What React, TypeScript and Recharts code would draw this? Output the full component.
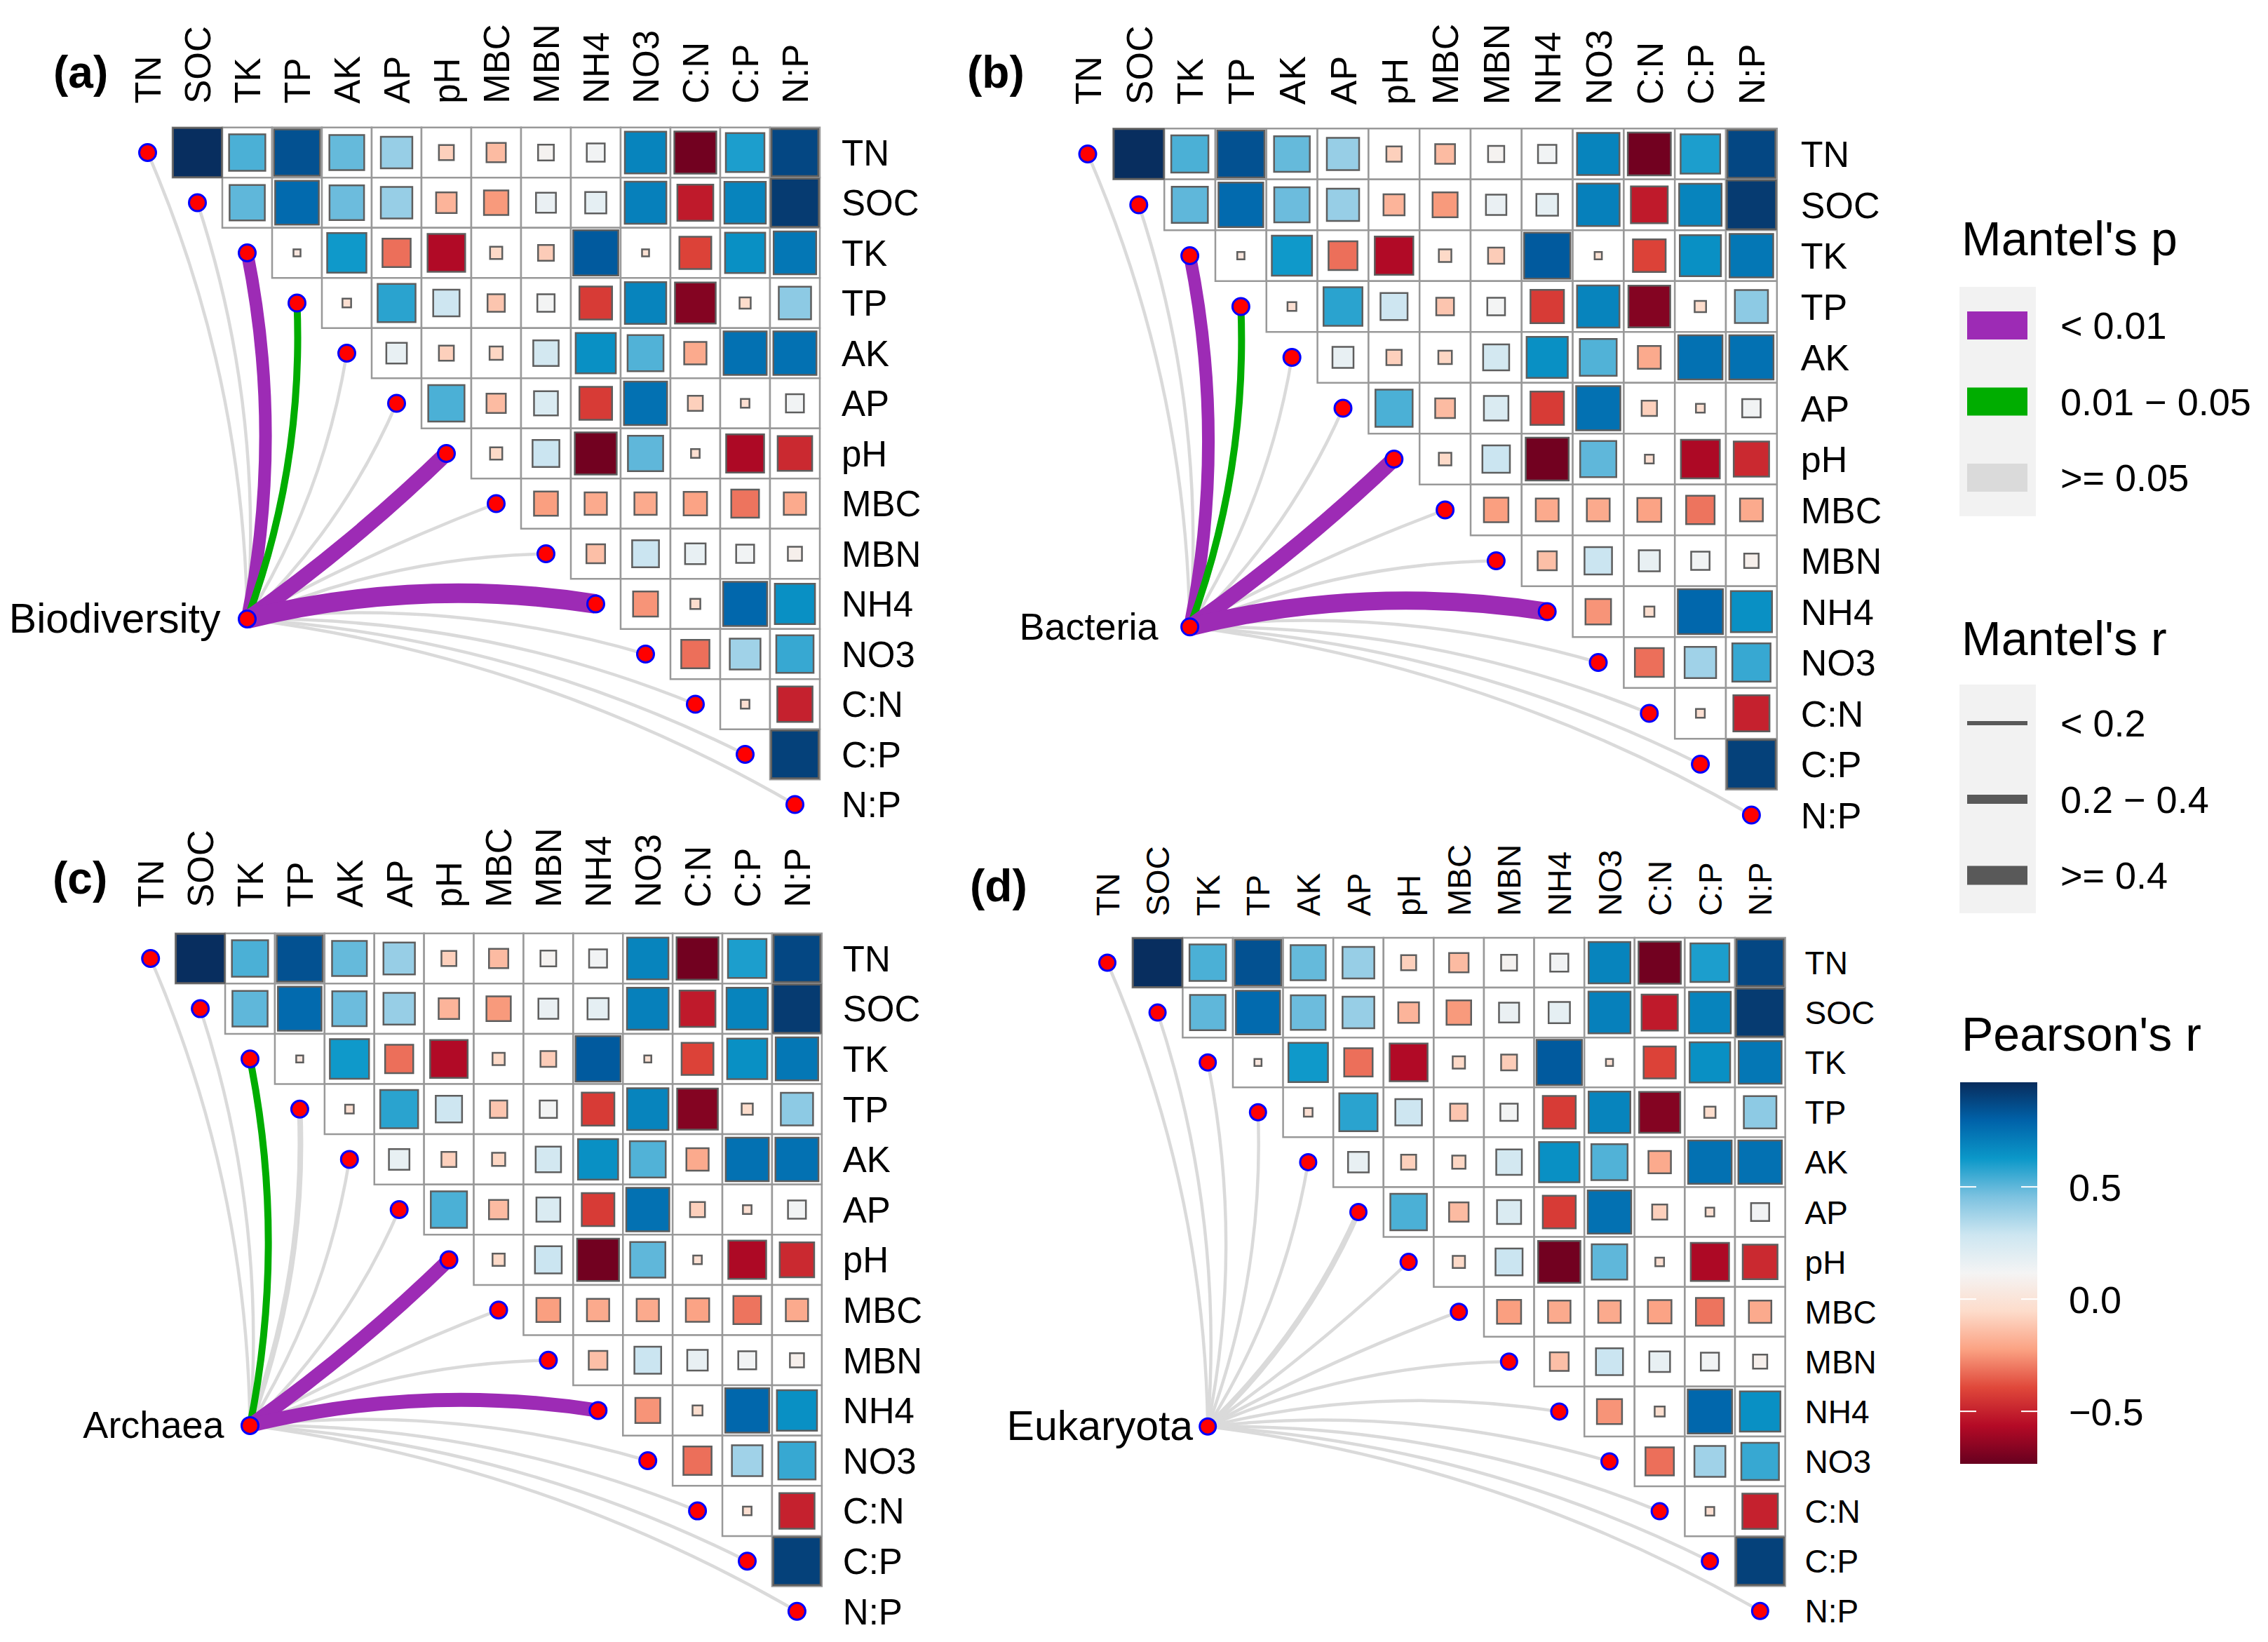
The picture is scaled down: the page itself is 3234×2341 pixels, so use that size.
import React from 'react';
import { ScatterChart, Scatter, XAxis, YAxis, ReferenceArea } from 'recharts';

const FONT = '"Liberation Sans", Arial, Helvetica, sans-serif';
const PAGE_W = 3234;
const PAGE_H = 2341;

const variables = ['TN', 'SOC', 'TK', 'TP', 'AK', 'AP', 'pH', 'MBC', 'MBN', 'NH4', 'NO3', 'C:N', 'C:P', 'N:P'];

// Pearson's r, upper triangle: row i holds the columns i+1 .. 13
const pearsonRows = [
  [0.96, 0.53, 0.85, 0.49, 0.4, -0.09, -0.15, 0.1, 0.13, 0.69, -0.71, 0.6, 0.88], // TN
  [0.5, 0.77, 0.48, 0.4, -0.17, -0.24, 0.16, 0.18, 0.7, -0.52, 0.69, 0.92], // SOC
  [0.02, 0.62, -0.32, -0.57, -0.06, -0.1, 0.82, -0.02, -0.41, 0.65, 0.73], // TK
  [-0.03, 0.58, 0.28, -0.12, 0.12, -0.43, 0.69, -0.67, -0.05, 0.42], // TP
  [0.17, -0.09, -0.07, 0.26, 0.65, 0.52, -0.2, 0.75, 0.75], // AK
  [0.53, -0.15, 0.23, -0.43, 0.75, -0.09, -0.03, 0.13], // AP
  [-0.06, 0.29, -0.71, 0.5, -0.03, -0.58, -0.48], // pH
  [-0.23, -0.2, -0.2, -0.22, -0.31, -0.2], // MBC
  [-0.14, 0.29, 0.17, 0.13, 0.08], // MBN
  [-0.25, -0.04, 0.78, 0.65], // NH4
  [-0.32, 0.38, 0.56], // NO3
  [-0.03, -0.5], // C:N
  [0.9], // C:P
];

// Mantel test per community, one entry per variable (p class, r estimate)
const biodiversityP = ['>=0.05', '>=0.05', '<0.01', '0.01-0.05', '>=0.05', '>=0.05', '<0.01', '>=0.05', '>=0.05', '<0.01', '>=0.05', '>=0.05', '>=0.05', '>=0.05'];
const biodiversityR = [0.1, 0.1, 0.45, 0.25, 0.1, 0.1, 0.55, 0.1, 0.15, 0.7, 0.1, 0.1, 0.1, 0.1];
const bacteriaP = ['>=0.05', '>=0.05', '<0.01', '0.01-0.05', '>=0.05', '>=0.05', '<0.01', '>=0.05', '>=0.05', '<0.01', '>=0.05', '>=0.05', '>=0.05', '>=0.05'];
const bacteriaR = [0.1, 0.1, 0.45, 0.25, 0.1, 0.1, 0.55, 0.1, 0.15, 0.65, 0.1, 0.1, 0.1, 0.1];
const archaeaP = ['>=0.05', '>=0.05', '0.01-0.05', '>=0.05', '>=0.05', '>=0.05', '<0.01', '>=0.05', '>=0.05', '<0.01', '>=0.05', '>=0.05', '>=0.05', '>=0.05'];
const archaeaR = [0.1, 0.1, 0.25, 0.2, 0.1, 0.1, 0.5, 0.1, 0.1, 0.5, 0.1, 0.1, 0.1, 0.1];
const eukaryotaP = ['>=0.05', '>=0.05', '>=0.05', '>=0.05', '>=0.05', '>=0.05', '>=0.05', '>=0.05', '>=0.05', '>=0.05', '>=0.05', '>=0.05', '>=0.05', '>=0.05'];
const eukaryotaR = [0.1, 0.1, 0.1, 0.1, 0.1, 0.2, 0.1, 0.1, 0.1, 0.1, 0.1, 0.1, 0.1, 0.1];

const pLabels = ['< 0.01', '0.01 \u2212 0.05', '>= 0.05'];
const rLabels = ['< 0.2', '0.2 \u2212 0.4', '>= 0.4'];
const colorTicks = [0.5, 0, -0.5];

const pColor: Record<string, string> = {
  '<0.01': '#9D2BB5',
  '0.01-0.05': '#00AD00',
  '>=0.05': '#DADADA',
};

const palette = ['#67001F', '#B40A26', '#E0483A', '#FBA283', '#FDDCCB', '#F4F4F4', '#CDE6F1', '#7CC2E0', '#0B98C9', '#0062A9', '#082C5C'];
const R_MIN = -0.734;
const R_MAX = 0.966;

const hex = (c: string) => [1, 3, 5].map((i) => parseInt(c.slice(i, i + 2), 16));

function pearsonColor(v: number) {
  let t = ((v - R_MIN) / (R_MAX - R_MIN)) * (palette.length - 1);
  t = Math.max(0, Math.min(palette.length - 1, t));
  const i = Math.min(palette.length - 2, Math.floor(t));
  const f = t - i;
  const a = hex(palette[i]);
  const b = hex(palette[i + 1]);
  const m = a.map((x, k) => Math.round(x + (b[k] - x) * f));
  return `rgb(${m[0]},${m[1]},${m[2]})`;
}

const linkWidth = (r: number) => (r < 0.2 ? 4.5 : 40 * r);

const cells: { i: number; j: number; r: number }[] = [];
pearsonRows.forEach((row, i) => row.forEach((r, k) => cells.push({ i, j: i + 1 + k, r })));
const diagonal = variables.map((_, i) => ({ x: i, y: i }));
const ticks = variables.map((_, i) => i);

// where the community node sits, in cell units
const NODE_X = 2;
const NODE_Y = 9.3;

const curveLine = (color: string, width: number) => (props: any) => {
  const pts = props.points;
  if (!pts || pts.length < 2) return <g />;
  const [a, b] = pts;
  const dx = b.x - a.x;
  const dy = b.y - a.y;
  const len = Math.hypot(dx, dy) || 1;
  const theta = (Math.atan2(-dy, dx) * 180) / Math.PI;
  const pivot = 32;
  const bulge = 0.05 * len * Math.min(1, Math.abs(theta - pivot) / 20);
  const nx = theta > pivot ? -dy / len : dy / len;
  const ny = theta > pivot ? dx / len : -dx / len;
  const qx = (a.x + b.x) / 2 + nx * bulge * 2;
  const qy = (a.y + b.y) / 2 + ny * bulge * 2;
  return <path d={`M${a.x},${a.y} Q${qx},${qy} ${b.x},${b.y}`} fill="none" stroke={color} strokeWidth={width} />;
};

const panels = [
  { tag: '(a)', name: 'Biodiversity', p: biodiversityP, r: biodiversityR, box: { left: 175, right: 1169, top: 181.75, bottom: 1182.75 }, font: 51, nameFont: 59, colGap: 34, rowGap: 31, nameGap: 38, dotR: 12, tagX: 76, tagY: 125 },
  { tag: '(b)', name: 'Bacteria', p: bacteriaP, r: bacteriaR, box: { left: 1514.6, right: 2533.8, top: 183.25, bottom: 1198.25 }, font: 52, nameFont: 54, colGap: 34, rowGap: 34, nameGap: 45, dotR: 12, tagX: 1379, tagY: 125 },
  { tag: '(c)', name: 'Archaea', p: archaeaP, r: archaeaR, box: { left: 179.25, right: 1171.85, top: 1330.7, bottom: 2333.1 }, font: 51, nameFont: 54, colGap: 37, rowGap: 30, nameGap: 37, dotR: 12, tagX: 75, tagY: 1274 },
  { tag: '(d)', name: 'Eukaryota', p: eukaryotaP, r: eukaryotaR, box: { left: 1543.2, right: 2545.6, top: 1336.95, bottom: 2332.35 }, font: 46, nameFont: 59, colGap: 31, rowGap: 28, nameGap: 21, dotR: 11.5, tagX: 1383, tagY: 1285 },
];

type PanelCfg = (typeof panels)[number];

const AXIS_PX = 1;

const Panel = ({ cfg }: { cfg: PanelCfg }) => {
  const { box } = cfg;
  const order = variables.map((_, i) => i).sort((a, b) => (cfg.p[a] === '>=0.05' ? 0 : 1) - (cfg.p[b] === '>=0.05' ? 0 : 1));

  const TopTick = (props: any) => {
    const { x, y, payload } = props;
    return (
      <text x={x} y={y} transform={`rotate(-90 ${x} ${y})`} dy="0.36em" textAnchor="start" fontSize={cfg.font} fontFamily={FONT} fill="#000">
        {variables[payload.value]}
      </text>
    );
  };
  const RightTick = (props: any) => {
    const { x, y, payload } = props;
    return (
      <text x={x} y={y} dy="0.36em" textAnchor="start" fontSize={cfg.font} fontFamily={FONT} fill="#000">
        {variables[payload.value]}
      </text>
    );
  };
  const dotShape = (props: any) => (
    <circle cx={props.cx} cy={props.cy} r={cfg.dotR} fill="#FF0000" stroke="#0000FF" strokeWidth={3} />
  );
  const nodeShape = (props: any) => (
    <g>
      <circle cx={props.cx} cy={props.cy} r={cfg.dotR} fill="#FF0000" stroke="#0000FF" strokeWidth={3} />
      <text x={props.cx - cfg.nameGap} y={props.cy} dy="0.33em" textAnchor="end" fontSize={cfg.nameFont} fontFamily={FONT} fill="#000">
        {cfg.name}
      </text>
    </g>
  );

  return (
    <div style={{ position: 'absolute', left: 0, top: 0 }}>
      <ScatterChart
        width={PAGE_W}
        height={PAGE_H}
        margin={{ left: box.left, top: box.top - AXIS_PX, right: PAGE_W - box.right - AXIS_PX, bottom: PAGE_H - box.bottom }}
      >
        <XAxis
          type="number"
          dataKey="x"
          orientation="top"
          domain={[-0.5, 13.5]}
          ticks={ticks}
          interval={0}
          height={AXIS_PX}
          tickSize={0}
          tickMargin={cfg.colGap}
          axisLine={false}
          tickLine={false}
          tick={TopTick}
        />
        <YAxis
          type="number"
          dataKey="y"
          orientation="right"
          reversed
          domain={[-0.5, 13.5]}
          ticks={ticks}
          interval={0}
          width={AXIS_PX}
          tickSize={0}
          tickMargin={cfg.rowGap}
          axisLine={false}
          tickLine={false}
          tick={RightTick}
        />
        {cells.map((c) => (
          <ReferenceArea
            key={`cell-${c.i}-${c.j}`}
            x1={c.j - 0.5}
            x2={c.j + 0.5}
            y1={c.i - 0.5}
            y2={c.i + 0.5}
            fill="#FFFFFF"
            fillOpacity={1}
            stroke="#999999"
            strokeWidth={2.5}
          />
        ))}
        {cells.map((c) => {
          const h = Math.sqrt(Math.abs(c.r)) / 2;
          return (
            <ReferenceArea
              key={`sq-${c.i}-${c.j}`}
              x1={c.j - h}
              x2={c.j + h}
              y1={c.i - h}
              y2={c.i + h}
              fill={pearsonColor(c.r)}
              fillOpacity={1}
              stroke="#5E5E5E"
              strokeWidth={2.5}
            />
          );
        })}
        {order.map((i) => (
          <Scatter
            key={`link-${i}`}
            data={[{ x: NODE_X, y: NODE_Y }, { x: i, y: i }]}
            shape={() => <g />}
            line={curveLine(pColor[cfg.p[i]], linkWidth(cfg.r[i]))}
            isAnimationActive={false}
          />
        ))}
        <Scatter data={diagonal} shape={dotShape} isAnimationActive={false} />
        <Scatter data={[{ x: NODE_X, y: NODE_Y }]} shape={nodeShape} isAnimationActive={false} />
      </ScatterChart>
    </div>
  );
};

const Legend = () => {
  const keyX = 2805;
  const keyW = 86;
  const labelX = 2938;
  const barTop = 1543;
  const barBottom = 2087;
  const barY = (v: number) => barBottom - ((v - R_MIN) / (R_MAX - R_MIN)) * (barBottom - barTop);
  const pColors = [pColor['<0.01'], pColor['0.01-0.05'], pColor['>=0.05']];
  const rWidths = [6, 13, 27];
  return (
    <svg width={PAGE_W} height={PAGE_H} style={{ position: 'absolute', left: 0, top: 0, pointerEvents: 'none' }} fontFamily={FONT}>
      {panels.map((p) => (
        <text key={p.tag} x={p.tagX} y={p.tagY} fontSize={64} fontWeight="bold" fill="#000">
          {p.tag}
        </text>
      ))}

      <text x={2797} y={364} fontSize={68} fill="#000">Mantel's p</text>
      <rect x={2794} y={409} width={109} height={327} fill="#F2F2F2" />
      {pLabels.map((l, k) => (
        <g key={l}>
          <rect x={keyX} y={464 + k * 108.5 - 20} width={keyW} height={40} fill={pColors[k]} />
          <text x={labelX} y={464 + k * 108.5} dy="0.36em" fontSize={54} fill="#000">{l}</text>
        </g>
      ))}

      <text x={2797} y={934} fontSize={68} fill="#000">Mantel's r</text>
      <rect x={2794} y={976} width={109} height={326} fill="#F2F2F2" />
      {rLabels.map((l, k) => (
        <g key={l}>
          <rect x={keyX} y={1031 + k * 108.5 - rWidths[k] / 2} width={keyW} height={rWidths[k]} fill="#595959" />
          <text x={labelX} y={1031 + k * 108.5} dy="0.36em" fontSize={54} fill="#000">{l}</text>
        </g>
      ))}

      <text x={2797} y={1498} fontSize={68} fill="#000">Pearson's r</text>
      <defs>
        <linearGradient id="pearsonGrad" x1="0" y1="1" x2="0" y2="0">
          {palette.map((c, k) => (
            <stop key={k} offset={k / (palette.length - 1)} stopColor={c} />
          ))}
        </linearGradient>
      </defs>
      <rect x={2795} y={barTop} width={110} height={barBottom - barTop} fill="url(#pearsonGrad)" />
      {colorTicks.map((v) => (
        <g key={v}>
          <line x1={2795} x2={2818} y1={barY(v)} y2={barY(v)} stroke="#FFFFFF" strokeWidth={2} />
          <line x1={2882} x2={2905} y1={barY(v)} y2={barY(v)} stroke="#FFFFFF" strokeWidth={2} />
          <text x={2950} y={barY(v)} dy="0.36em" fontSize={54} fill="#000">
            {v < 0 ? `\u2212${Math.abs(v).toFixed(1)}` : v.toFixed(1)}
          </text>
        </g>
      ))}
    </svg>
  );
};

export default function App() {
  return (
    <div style={{ position: 'absolute', left: 0, top: 0, width: PAGE_W, height: PAGE_H, background: '#FFFFFF', overflow: 'hidden' }}>
      {panels.map((p) => (
        <Panel key={p.tag} cfg={p} />
      ))}
      <Legend />
    </div>
  );
}
